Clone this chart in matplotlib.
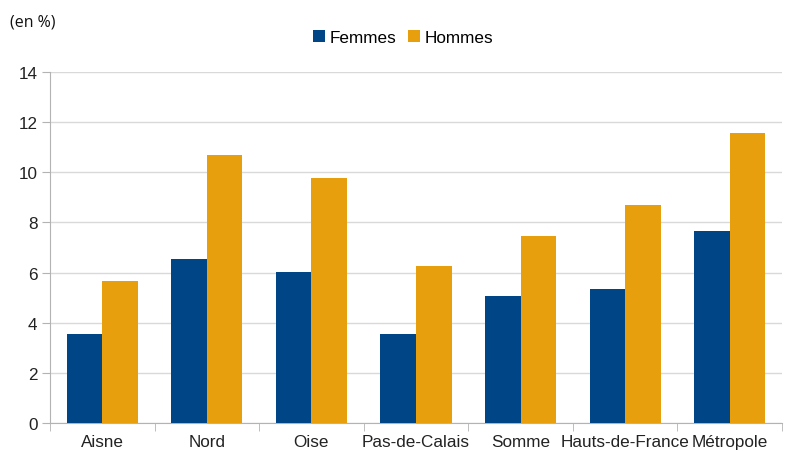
import matplotlib.pyplot as plt
import numpy as np

# Data (en %)
categories = ["Aisne", "Nord", "Oise", "Pas-de-Calais", "Somme", "Hauts-de-France", "Métropole"]
femmes = [3.55, 6.55, 6.02, 3.55, 5.05, 5.35, 7.65]
hommes = [5.67, 10.67, 9.77, 6.27, 7.45, 8.70, 11.55]

plt.rcParams['font.family'] = ['Liberation Sans', 'DejaVu Sans']

fig = plt.figure(figsize=(7.86, 4.52), dpi=100)
ax = fig.add_axes([0.0636, 0.062, 0.9314, 0.7765])

x = np.arange(len(categories))
w = 0.34
ax.bar(x - w / 2, femmes, w, color="#004586", label="Femmes", zorder=3)
ax.bar(x + w / 2, hommes, w, color="#e89f0e", label="Hommes", zorder=3)

ax.set_xlim(-0.5, len(categories) - 0.5)
ax.set_ylim(0, 14)
ax.set_yticks(range(0, 15, 2))
ax.yaxis.grid(True, color="#d9d9d9", linewidth=1, zorder=0)

# category labels centred, tick marks on category boundaries
ax.set_xticks(x)
ax.set_xticklabels(categories, fontsize=12.3, color="#222222")
ax.tick_params(axis='x', length=0, pad=8)
ax.set_xticks(np.arange(-0.5, len(categories), 1), minor=True)
ax.tick_params(axis='x', which='minor', length=6, color="#b3b3b3")
ax.tick_params(axis='y', length=6, color="#b3b3b3", labelsize=12.3, labelcolor="#222222", pad=3)

for s in ['top', 'right']:
    ax.spines[s].set_visible(False)
ax.spines['left'].set_color("#b3b3b3")
ax.spines['bottom'].set_color("#b3b3b3")

fig.legend(loc='center', bbox_to_anchor=(0.513, 0.915), ncol=2, frameon=False,
           fontsize=12.3, handlelength=0.7, handleheight=0.7, handletextpad=0.25,
           columnspacing=0.7)

fig.text(0.013, 0.951, "(en %)", fontsize=11.5, family=['Open Sans', 'DejaVu Sans'],
         ha='left', va='center', color="#111111")

fig.savefig("out.png", dpi=100)
